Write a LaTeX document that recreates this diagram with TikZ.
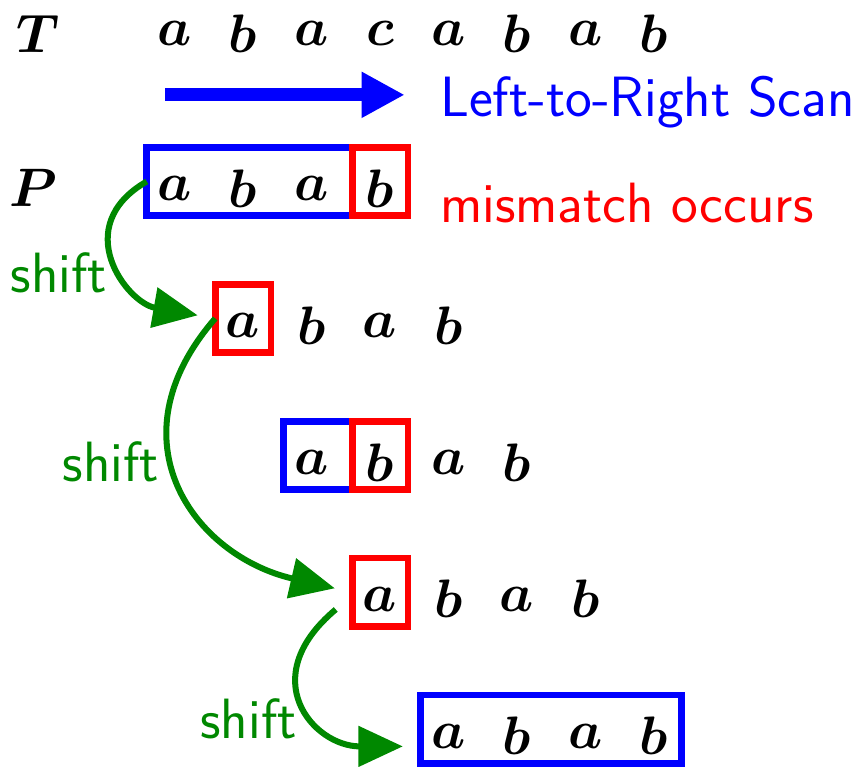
\RequirePackage{fix-cm}
\documentclass[tikz,border=0pt]{standalone}
\usepackage{amsmath,amssymb}
\usepackage{tikz}
\usetikzlibrary{arrows.meta,positioning,calc}
\definecolor{shiftgreen}{RGB}{0,136,0}
\tikzset{
  every node/.style={font=\fontsize{22.5}{27}\selectfont},
  letter/.style={minimum width=0.8cm,inner xsep=0pt},
  bluebox/.style={draw=blue,line width=2.8pt},
  redbox/.style={draw=red,line width=2.8pt},
  shiftarrow/.style={shiftgreen,line width=2.5pt,-{Triangle[length=0.65cm,width=0.58cm]},shorten >=0.26cm},
  sanslabel/.style={font=\fontsize{23.6}{28}\selectfont\sffamily,anchor=base west,inner sep=0pt},
}
\begin{document}
\begin{tikzpicture}[x=1cm,y=1cm]
  \useasboundingbox (0,0) rectangle (12.53,-11.2); % 余白を含む描画範囲
  \node (tlabel) at (0.55,-0.49) {$\boldsymbol{T}$}; % テキストのラベル
  \node (plabel) at (0.49,-2.75) {$\boldsymbol{P}$}; % パターンのラベル
  \foreach \c [count=\i from 0] in {a,b,a,c,a,b,a,b}
    \node[letter] (t\i) at (2.55+\i,-0.49) {$\boldsymbol{\c}$}; % テキストの各文字
  \foreach \j in {0,...,4}
    \foreach \c [count=\i from 0] in {a,b,a,b}
      \node[letter] (p\j\i) at (2.55+\j+\i,-2.75-2*\j) {$\boldsymbol{\c}$}; % ずらしたパターンの各文字
  \coordinate (scanstart) at (2.41,-1.385); % 走査矢印の始点
  \coordinate (scanend) at (5.91,-1.385); % 走査矢印の終点
  \draw[blue,line width=5.4pt,-{Triangle[length=0.63cm,width=0.63cm]}] (scanstart) -- (scanend); % 左から右への走査
  \node[sanslabel,blue] (scanlabel) at (6.42,-1.705) {Left-to-Right Scan}; % 走査の説明
  \node[sanslabel,red] (mismatch) at (6.42,-3.255) {mismatch occurs}; % 不一致の説明
  \draw[bluebox] ([yshift=0.6cm]p00.west) rectangle ([yshift=-0.4cm]p03.west); % 一致した部分
  \draw[redbox] ([yshift=0.6cm]p03.west) rectangle ([yshift=-0.4cm]p03.east); % 不一致の文字
  \draw[redbox] ([yshift=0.6cm]p10.west) rectangle ([yshift=-0.4cm]p10.east); % 不一致の文字
  \draw[bluebox] ([yshift=0.6cm]p20.west) rectangle ([yshift=-0.4cm]p21.west); % 一致した部分
  \draw[redbox] ([yshift=0.6cm]p21.west) rectangle ([yshift=-0.4cm]p21.east); % 不一致の文字
  \draw[redbox] ([yshift=0.6cm]p30.west) rectangle ([yshift=-0.4cm]p30.east); % 不一致の文字
  \draw[bluebox] ([yshift=0.6cm]p40.west) rectangle ([yshift=-0.4cm]p43.east); % 完全に一致
  \draw[shiftarrow] ([yshift=0.1cm]p00.west) to[out=210,in=170,looseness=1.5] ([yshift=0.1cm]p10.west); % 1回目のずらし
  \draw[shiftarrow] ([yshift=0.1cm]p10.west) to[out=229,in=167,looseness=1.35] ([yshift=0.1cm]p30.west); % 2回目のずらし
  \draw[shiftarrow] ([xshift=-0.24cm,yshift=-0.15cm]p30.west) to[out=220,in=180,looseness=1.7] ([yshift=-0.15cm]p40.west); % 3回目のずらし
  \node[sanslabel,shiftgreen] (shift1) at (0.15,-4.27) {shift}; % ずらしのラベル
  \node[sanslabel,shiftgreen] (shift2) at (0.91,-7.03) {shift}; % ずらしのラベル
  \node[sanslabel,shiftgreen] (shift3) at (2.92,-10.79) {shift}; % ずらしのラベル
\end{tikzpicture}
\end{document}
